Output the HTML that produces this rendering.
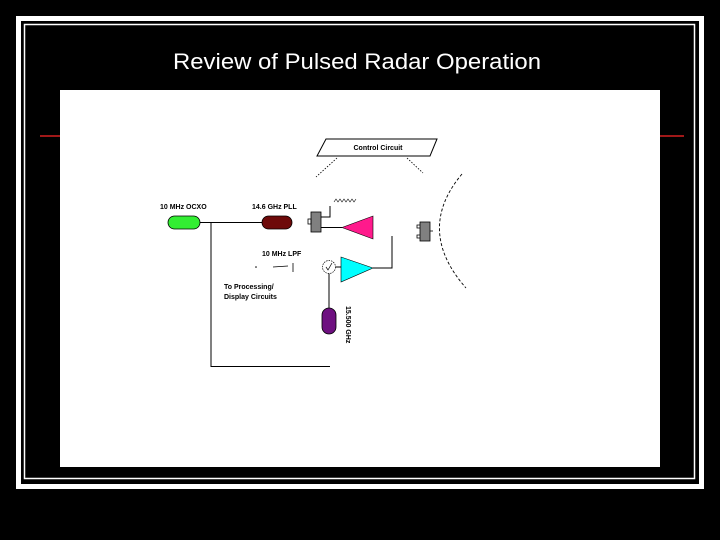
<!DOCTYPE html>
<html><head><style>
html,body{margin:0;padding:0;background:#000;width:720px;height:540px;overflow:hidden}
svg{display:block}
</style></head><body>
<svg width="720" height="540" viewBox="0 0 720 540" xmlns="http://www.w3.org/2000/svg">
<rect width="720" height="540" fill="#000"/>
<rect x="18.5" y="18.5" width="683" height="468" fill="none" stroke="#fff" stroke-width="5"/>
<rect x="24.5" y="24.5" width="670" height="454" fill="none" stroke="#fff" stroke-width="1.5"/>
<line x1="40" y1="136" x2="62" y2="136" stroke="#a01818" stroke-width="2"/>
<line x1="658" y1="136" x2="684" y2="136" stroke="#a01818" stroke-width="2"/>
<text x="173" y="69" font-family="Liberation Sans, sans-serif" font-size="22" fill="#fff" textLength="368" lengthAdjust="spacingAndGlyphs">Review of Pulsed Radar Operation</text>
<rect x="60" y="90" width="600" height="377" fill="#fff"/>
<g font-family="Liberation Sans, sans-serif" font-weight="bold" font-size="7" fill="#000">
<!-- control circuit -->
<polygon points="326,139 437,139 430,156 317,156" fill="#fff" stroke="#000" stroke-width="1"/>
<text x="378" y="150" text-anchor="middle">Control Circuit</text>
<line x1="337" y1="158" x2="316" y2="177" stroke="#000" stroke-width="0.8" stroke-dasharray="1.5,1.5"/>
<line x1="407" y1="158" x2="423" y2="173" stroke="#000" stroke-width="0.8" stroke-dasharray="1.5,1.5"/>
<path d="M462,174 Q415,230 466,288" fill="none" stroke="#000" stroke-width="0.9" stroke-dasharray="3,2"/>
<!-- OCXO and PLL -->
<text x="160" y="209">10 MHz OCXO</text>
<rect x="168" y="216" width="32" height="13" rx="6.5" fill="#33ee33" stroke="#000" stroke-width="0.8"/>
<text x="252" y="209">14.6 GHz PLL</text>
<rect x="262" y="216" width="30" height="13" rx="6.5" fill="#6e0a0a" stroke="#000" stroke-width="0.8"/>
<line x1="200" y1="222.5" x2="262" y2="222.5" stroke="#000"/>
<polyline points="211,222.5 211,366.5 330,366.5" fill="none" stroke="#000"/>
<!-- transmitter -->
<rect x="311" y="212" width="10" height="20" fill="#808080" stroke="#000" stroke-width="0.8"/>
<rect x="308" y="219" width="3" height="5" fill="none" stroke="#000" stroke-width="0.8"/>
<polyline points="321,217 330,217 330,206" fill="none" stroke="#000"/>
<polyline points="334,202 336,199 338,202 340,199 342,202 344,199 346,202 348,199 350,202 352,199 354,202 356,199" fill="none" stroke="#000" stroke-width="0.6"/>
<line x1="321" y1="227.5" x2="342" y2="227.5" stroke="#000"/>
<polygon points="373,216 373,239 342,227.5" fill="#ff1a8c" stroke="#000" stroke-width="0.6"/>
<!-- antenna box -->
<rect x="420" y="222" width="10" height="19" fill="#808080" stroke="#000" stroke-width="0.8"/>
<polyline points="420,225 417,225 417,228 420,228" fill="none" stroke="#000" stroke-width="0.8"/>
<polyline points="420,235 417,235 417,238 420,238" fill="none" stroke="#000" stroke-width="0.8"/>
<line x1="430" y1="231" x2="433" y2="231" stroke="#000" stroke-width="0.8"/>
<!-- receiver -->
<polygon points="341,257 341,282 373,268" fill="#00ffff" stroke="#000" stroke-width="0.6"/>
<polyline points="373,268 392,268 392,236" fill="none" stroke="#000"/>
<circle cx="329" cy="267" r="6.5" fill="#fff" stroke="#000" stroke-width="0.7" stroke-dasharray="1.5,1"/>
<polyline points="326,267 328,270 332,263" fill="none" stroke="#000" stroke-width="0.7"/>
<line x1="335.5" y1="267" x2="341" y2="267" stroke="#000"/>
<line x1="329" y1="273.5" x2="329" y2="308" stroke="#000"/>
<rect x="322" y="308" width="14" height="26" rx="7" fill="#6e1080" stroke="#000" stroke-width="0.8"/>
<text transform="translate(346,306) rotate(90)">15.500 GHz</text>
<!-- LPF -->
<text x="262" y="256">10 MHz LPF</text>
<circle cx="256" cy="267" r="0.8" fill="#000"/>
<polyline points="273,267 288,266" fill="none" stroke="#000" stroke-width="0.8"/>
<line x1="293" y1="263" x2="293" y2="272" stroke="#000" stroke-width="0.8"/>
<text x="224" y="289">To Processing/</text>
<text x="224" y="299">Display Circuits</text>
</g>
</svg>
</body></html>
